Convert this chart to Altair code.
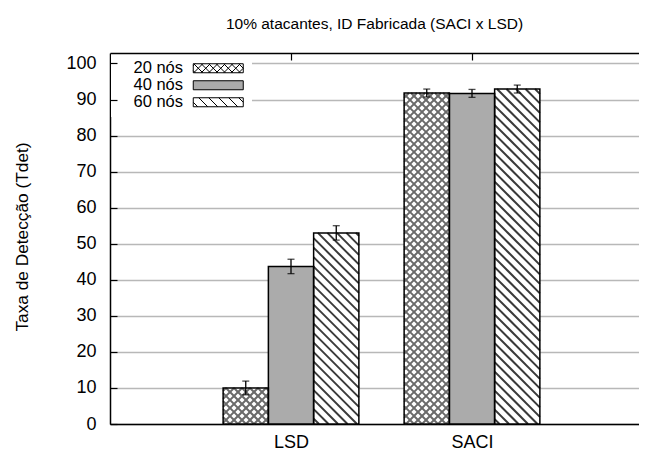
import json
import altair as alt
import numpy as np
import pandas as pd

# ---------------- data ----------------
grupos = ["LSD", "SACI"]
series = ["20 nós", "40 nós", "60 nós"]
valores_lsd = [10.0, 43.7, 53.0]
valores_saci = [91.8, 91.7, 92.9]
erros_lsd = [1.9, 2.0, 2.0]
erros_saci = [1.1, 1.1, 1.1]
y_ticks = [0, 10, 20, 30, 40, 50, 60, 70, 80, 90, 100]
titulo = "10% atacantes, ID Fabricada (SACI x LSD)"
titulo_y = "Taxa de Detecção (Tdet)"

# ---------------- layout constants ----------------
FONT = "Liberation Sans"
W, H = 529, 371
X_MIN = -1.0
X_MAX = -1.0 + W / 181.0
Y_MAX = 102.9
BAR_W = 0.25
PX_X = W / (X_MAX - X_MIN)
PX_Y = H / Y_MAX

rows = []
for gi, (g, vals, errs) in enumerate([(grupos[0], valores_lsd, erros_lsd),
                                       (grupos[1], valores_saci, erros_saci)]):
    for si, s in enumerate(series):
        xc = gi + (si - 1) * BAR_W
        rows.append(dict(grupo=g, serie=s, valor=vals[si], erro=errs[si],
                         xc=xc, x0=xc - BAR_W / 2, x1=xc + BAR_W / 2, base=0.0,
                         meio=vals[si] / 2,
                         lo=vals[si] - errs[si], hi=vals[si] + errs[si]))
df = pd.DataFrame(rows)


def hatch(sub, slopes, spacing):
    segs = []
    for _, r in sub.iterrows():
        X0 = (r.x0 - X_MIN) * PX_X
        X1 = (r.x1 - X_MIN) * PX_X
        Y0, Y1 = 0.0, r.valor * PX_Y
        for s in slopes:
            if s > 0:
                cmin, cmax = Y0 - X1, Y1 - X0
            else:
                cmin, cmax = Y0 + X0, Y1 + X1
            for k in range(int(np.floor(cmin / spacing)), int(np.ceil(cmax / spacing)) + 1):
                c = k * spacing
                if s > 0:
                    a, b = max(X0, Y0 - c), min(X1, Y1 - c)
                else:
                    a, b = max(X0, c - Y1), min(X1, c - Y0)
                if b - a > 0.3:
                    segs.append(dict(xa=a / PX_X + X_MIN, xb=b / PX_X + X_MIN,
                                     ya=(s * a + c) / PX_Y, yb=(s * b + c) / PX_Y))
    return pd.DataFrame(segs)


cross = hatch(df[df.serie == series[0]], [1, -1], 8.0)
stripes = hatch(df[df.serie == series[2]], [-1], 9.5)

# legend swatches: custom symbol paths (unit = 5 px for symbolSize 100),
# drawn to the right of the label
SW_X0, SW_X1, SW_HH = 13.6, 23.6, 0.9


def swatch(kind):
    x0, x1, hh = SW_X0, SW_X1, SW_HH
    p = f"M{x0},{-hh}L{x1},{-hh}L{x1},{hh}L{x0},{hh}Z"
    if kind == 0:
        sp, dirs = 1.5, [1, -1]
    elif kind == 2:
        sp, dirs = 2.0, [1]
    else:
        return p
    for d in dirs:
        c = x0 - 2.0
        while c < x1 + 2.0:
            a, b = max(x0, c - hh), min(x1, c + hh)
            if b - a > 0.1:
                ya, yb = d * (a - c), d * (b - c)
                p += f"M{a:.3f},{ya:.3f}L{b:.3f},{yb:.3f}"
            c += sp
    return p


paths = [swatch(0), swatch(1), swatch(2)]
fills = ["white", "#ababab", "white"]

xscale = alt.Scale(domain=[X_MIN, X_MAX], nice=False, zero=False)
yscale = alt.Scale(domain=[0, Y_MAX], nice=False, zero=True)
label_expr = json.dumps(grupos) + "[datum.value]"

legend = alt.Legend(title=None, orient="none", legendX=1, legendY=1, direction="vertical",
                    symbolSize=100, symbolStrokeColor="black", symbolStrokeWidth=1,
                    labelOffset=0, labelAlign="left",
                    labelFont=FONT, labelFontSize=16.5, labelColor="black",
                    rowPadding=0, padding=6, fillColor="white")

base = alt.Chart(df)

# invisible points providing the legend (sit under opaque bars)
pts = base.mark_point(filled=True, size=1, strokeWidth=1, opacity=1).encode(
    x=alt.X("xc:Q", scale=xscale, axis=None),
    y=alt.Y("meio:Q", scale=yscale, axis=None),
    fill=alt.Fill("serie:N", scale=alt.Scale(domain=series, range=fills), legend=legend),
    stroke=alt.Stroke("serie:N", scale=alt.Scale(domain=series, range=["black"] * 3), legend=legend),
    shape=alt.Shape("serie:N", scale=alt.Scale(domain=series, range=paths), legend=legend),
)

bars = base.mark_rect(strokeWidth=0).encode(
    x=alt.X("x0:Q", scale=xscale,
            axis=alt.Axis(values=[0, 1], labelExpr=label_expr, title=None, grid=False,
                          ticks=False, domain=True, domainColor="black", domainWidth=1.5,
                          labelFont=FONT, labelFontSize=18, labelColor="black",
                          labelPadding=9, orient="bottom")),
    x2="x1:Q",
    y=alt.Y("valor:Q", scale=yscale,
            axis=alt.Axis(values=y_ticks, title=titulo_y, grid=True, gridColor="#b8b8b8",
                          gridWidth=1.5, ticks=False, domain=True, domainColor="black",
                          domainWidth=1.5, labelFont=FONT, labelFontSize=18,
                          labelColor="black", labelPadding=14, titleFont=FONT,
                          titleFontSize=17.3, titleFontWeight="normal", titleColor="black",
                          titleAngle=270, titleX=-88, titleY=H / 2 - 2, titleAlign="center",
                          titleBaseline="middle", orient="left")),
    y2="base:Q",
    fill=alt.Fill("serie:N", scale=alt.Scale(domain=series, range=fills), legend=None),
)

hatch_cross = alt.Chart(cross).mark_rule(color="#6a6a6a", strokeWidth=2.0, strokeCap="butt").encode(
    x=alt.X("xa:Q", scale=xscale,
            axis=alt.Axis(orient="top", values=[0, 1], labels=False, ticks=False, grid=False,
                          domain=True, domainColor="black", domainWidth=1.5, title=None,
                          zindex=1)),
    x2="xb:Q",
    y=alt.Y("ya:Q", scale=yscale,
            axis=alt.Axis(orient="left", offset=-7, values=y_ticks, labels=False, ticks=True,
                          tickSize=7, tickColor="black", tickWidth=1.2, grid=False,
                          domain=False, title=None, zindex=1)),
    y2="yb:Q",
)

hatch_stripes = alt.Chart(stripes).mark_rule(color="#3a3a3a", strokeWidth=2.0, strokeCap="butt").encode(
    x=alt.X("xa:Q", scale=xscale,
            axis=alt.Axis(orient="top", offset=-7, values=[0, 1], labels=False, ticks=True,
                          tickSize=7, tickColor="black", tickWidth=1.2, grid=False,
                          domain=False, title=None)),
    x2="xb:Q",
    y=alt.Y("ya:Q", scale=yscale, axis=None),
    y2="yb:Q",
)

outline = base.mark_rect(fillOpacity=0, stroke="black", strokeWidth=1.5).encode(
    x=alt.X("x0:Q", scale=xscale, axis=None),
    x2="x1:Q",
    y=alt.Y("valor:Q", scale=yscale, axis=None),
    y2="base:Q",
)

err = base.mark_rule(color="black", strokeWidth=1.3).encode(
    x=alt.X("xc:Q", scale=xscale, axis=None),
    y=alt.Y("lo:Q", scale=yscale, axis=None),
    y2="hi:Q",
)
cap_lo = base.mark_tick(color="black", orient="horizontal", size=7, thickness=1.3).encode(
    x=alt.X("xc:Q", scale=xscale, axis=None),
    y=alt.Y("lo:Q", scale=yscale, axis=None),
)
cap_hi = base.mark_tick(color="black", orient="horizontal", size=7, thickness=1.3).encode(
    x=alt.X("xc:Q", scale=xscale, axis=None),
    y=alt.Y("hi:Q", scale=yscale, axis=None),
)

chart = alt.layer(pts, bars, hatch_cross, hatch_stripes, outline, err, cap_lo, cap_hi).resolve_axis(
    x="independent", y="independent"
).properties(
    width=W, height=H,
    padding={"left": 102, "top": 45, "right": 0, "bottom": 26},
    autosize="none",
    title=alt.TitleParams(text=titulo, font=FONT, fontSize=15.5, fontWeight="normal",
                          color="black", anchor="middle", offset=20, frame="group"),
).configure_view(stroke=None).configure(background="white")

chart.save("out.html", embed_options={"renderer": "svg", "actions": False})
